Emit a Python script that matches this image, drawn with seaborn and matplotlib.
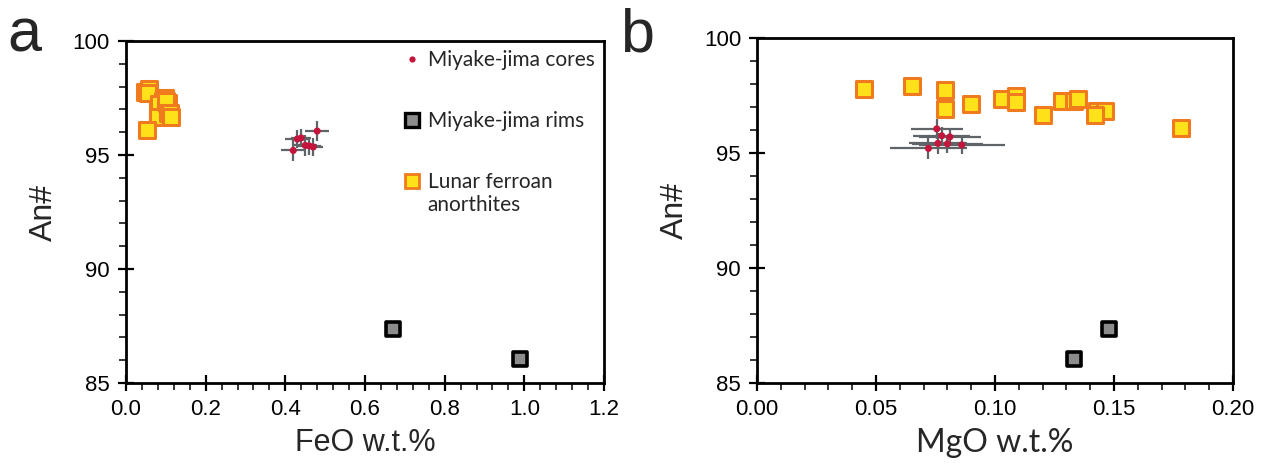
import numpy as np
import pandas as pd
import matplotlib
matplotlib.use("Agg")
import matplotlib.pyplot as plt
from matplotlib.lines import Line2D
from matplotlib.legend_handler import HandlerLine2D
from matplotlib.ticker import MultipleLocator, FormatStrFormatter
import seaborn as sns

# ---- Lunar ferroan anorthites ----
lunar_feo = [0.048, 0.059, 0.056, 0.081, 0.084, 0.092, 0.098, 0.084,
             0.081, 0.103, 0.106, 0.100, 0.106, 0.111, 0.113, 0.054]
lunar_mgo = [0.045, 0.065, 0.079, 0.079, 0.090, 0.103, 0.109, 0.109,
             0.120, 0.128, 0.133, 0.135, 0.143, 0.146, 0.142, 0.178]
lunar_an = [97.78, 97.91, 97.74, 96.91, 97.13, 97.35, 97.48, 97.22,
            96.65, 97.26, 97.26, 97.35, 96.83, 96.83, 96.65, 96.09]

# ---- Miyake-jima plagioclase cores (with 1 sigma errors) ----
core_feo = [0.48, 0.44, 0.43, 0.45, 0.46, 0.47, 0.42]
core_mgo = [0.0755, 0.0776, 0.081, 0.076, 0.080, 0.086, 0.072]
core_an = [96.05, 95.75, 95.70, 95.42, 95.40, 95.35, 95.20]
core_feo_err = [0.030, 0.025, 0.030, 0.030, 0.030, 0.025, 0.030]
core_mgo_err = [0.011, 0.012, 0.013, 0.012, 0.015, 0.018, 0.016]
core_an_err = [0.45, 0.40, 0.40, 0.45, 0.40, 0.40, 0.45]

# ---- Miyake-jima plagioclase rims ----
rim_feo = [0.67, 0.99]
rim_mgo = [0.148, 0.133]
rim_an = [87.35, 86.05]

lunar = pd.DataFrame({"FeO": lunar_feo, "MgO": lunar_mgo, "An": lunar_an})
cores = pd.DataFrame({"FeO": core_feo, "MgO": core_mgo, "An": core_an,
                      "FeO_err": core_feo_err, "MgO_err": core_mgo_err,
                      "An_err": core_an_err})
rims = pd.DataFrame({"FeO": rim_feo, "MgO": rim_mgo, "An": rim_an})

sns.set_style("white")
plt.rcParams["font.family"] = ["Liberation Sans", "DejaVu Sans"]

LUNAR_FACE = "#FFE21A"
LUNAR_EDGE = "#F07A1E"
RIM_FACE = "#8C8C8C"
CORE_RED = "#C4163C"
ERR_GREY = "#5E6468"

fig = plt.figure(figsize=(12.66, 4.68), dpi=100)
ax_a = fig.add_axes([0.0995, 0.1816, 0.3776, 0.7308])
ax_b = fig.add_axes([0.5980, 0.1816, 0.3760, 0.7372])


def draw_panel(ax, xcol, xerr_col):
    ax.errorbar(cores[xcol], cores["An"], xerr=cores[xerr_col],
                yerr=cores["An_err"], fmt="none", ecolor=ERR_GREY,
                elinewidth=1.6, capsize=0, zorder=2)
    sns.scatterplot(data=cores, x=xcol, y="An", ax=ax, marker="o", s=26,
                    color=CORE_RED, edgecolor="none", zorder=3, legend=False)
    sns.scatterplot(data=rims, x=xcol, y="An", ax=ax, marker="s", s=110,
                    color=RIM_FACE, edgecolor="black", linewidth=2.6,
                    zorder=3, legend=False)
    sns.scatterplot(data=lunar, x=xcol, y="An", ax=ax, marker="s", s=120,
                    color=LUNAR_FACE, edgecolor=LUNAR_EDGE, linewidth=2.2,
                    zorder=4, legend=False)
    ax.set_ylim(85, 100)
    ax.yaxis.set_major_locator(MultipleLocator(5))
    ax.yaxis.set_minor_locator(MultipleLocator(1))
    ax.tick_params(axis="both", which="major", direction="inout", length=11,
                   width=1.6, labelsize=16, colors="black", pad=6)
    ax.tick_params(axis="both", which="minor", direction="out", length=5,
                   width=1.3)
    ax.tick_params(axis="x", which="both", bottom=True, top=False)
    ax.tick_params(axis="y", which="both", left=True, right=False)
    for sp in ax.spines.values():
        sp.set_linewidth(2.0)
        sp.set_color("black")
    ax.set_ylabel("An#", fontsize=23, labelpad=10)


draw_panel(ax_a, "FeO", "FeO_err")
ax_a.set_xlim(0, 1.2)
ax_a.xaxis.set_major_locator(MultipleLocator(0.2))
ax_a.xaxis.set_minor_locator(MultipleLocator(0.04))
ax_a.xaxis.set_major_formatter(FormatStrFormatter("%.1f"))
ax_a.set_xlabel("FeO w.t.%", fontsize=22, labelpad=6)

draw_panel(ax_b, "MgO", "MgO_err")
ax_b.set_xlim(0, 0.20)
ax_b.xaxis.set_major_locator(MultipleLocator(0.05))
ax_b.xaxis.set_minor_locator(MultipleLocator(0.01))
ax_b.xaxis.set_major_formatter(FormatStrFormatter("%.2f"))
ax_b.set_xlabel("MgO w.t.%", fontsize=23, labelpad=6,
                family=["Lato", "DejaVu Sans"])


class FirstLineHandler(HandlerLine2D):
    """Places the legend marker level with the first line of a two-line label."""

    def create_artists(self, legend, orig_handle, xdescent, ydescent,
                       width, height, fontsize, trans):
        artists = super().create_artists(legend, orig_handle, xdescent,
                                         ydescent, width, height, fontsize,
                                         trans)
        for art in artists:
            art.set_ydata([y + 0.62 * fontsize for y in art.get_ydata()])
        return artists


handles = [
    Line2D([], [], linestyle="none", marker="o", markersize=4.5,
           markerfacecolor=CORE_RED, markeredgecolor="none"),
    Line2D([], [], linestyle="none", marker="s", markersize=9.5,
           markerfacecolor=RIM_FACE, markeredgecolor="black",
           markeredgewidth=2.4),
    Line2D([], [], linestyle="none", marker="s", markersize=9.5,
           markerfacecolor=LUNAR_FACE, markeredgecolor=LUNAR_EDGE,
           markeredgewidth=2.0),
]
labels = ["Miyake-jima cores", "Miyake-jima rims", "Lunar ferroan\nanorthites"]
leg = ax_a.legend(handles, labels, loc="upper right", frameon=False,
                  bbox_to_anchor=(1.0, 1.0), handlelength=0.8,
                  handletextpad=0.35, labelspacing=1.95, borderaxespad=0.1,
                  borderpad=0.35,
                  handler_map={handles[2]: FirstLineHandler()},
                  prop={"family": ["Lato", "DejaVu Sans"], "size": 15})

fig.text(0.006, 0.985, "a", fontsize=44, va="top", ha="left")
fig.text(0.490, 0.985, "b", fontsize=44, va="top", ha="left")

fig.savefig("out.png", dpi=100, facecolor="white")
